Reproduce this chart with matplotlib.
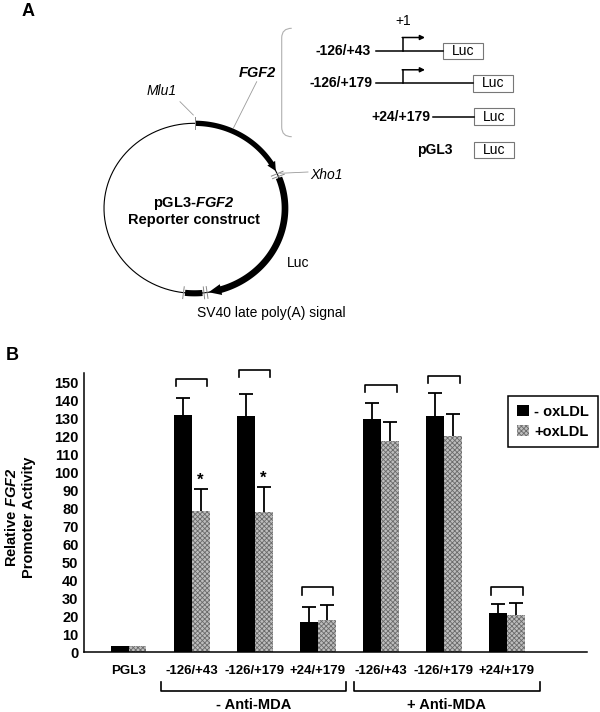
import numpy as np
import matplotlib
matplotlib.use("Agg")
import matplotlib.pyplot as plt
from matplotlib.patches import Rectangle, Polygon, PathPatch
from matplotlib.path import Path

plt.rcParams['font.family'] = 'sans-serif'
plt.rcParams['font.sans-serif'] = ['Liberation Sans', 'DejaVu Sans']
plt.rcParams['mathtext.fontset'] = 'custom'
plt.rcParams['mathtext.rm'] = 'Liberation Sans'
plt.rcParams['mathtext.it'] = 'Liberation Sans:italic'
plt.rcParams['mathtext.bf'] = 'Liberation Sans:bold'
plt.rcParams['mathtext.bfit'] = 'Liberation Sans:italic:bold'
plt.rcParams['hatch.linewidth'] = 0.6

# ---- panel B data ----
groups = ['PGL3', '-126/+43', '-126/+179', '+24/+179', '-126/+43', '-126/+179', '+24/+179']
minus_oxldl = [3.2, 132.0, 131.3, 16.9, 129.6, 131.3, 21.5]
minus_err = [np.nan, 9.7, 12.7, 8.0, 8.9, 13.2, 5.2]
plus_oxldl = [3.2, 78.5, 77.8, 17.8, 117.5, 120.5, 20.4]
plus_err = [np.nan, 12.3, 14.2, 8.4, 10.6, 11.9, 6.7]
significant = [False, True, True, False, False, False, False]
bracket_top = [None, 152, 157, 36, 149, 154, 36]
treatments = ['- Anti-MDA', '+ Anti-MDA']
treatment_span = [(0.52, 3.45), (3.58, 6.52)]

# ---- panel A labels ----
constructs = ['-126/+43', '-126/+179', '+24/+179', 'pGL3']

fig = plt.figure(figsize=(6, 7.12), dpi=100)

# ================= panel A (drawn in pixel coordinates) =================
ax0 = fig.add_axes([0, 0, 1, 1])
ax0.set_xlim(0, 600)
ax0.set_ylim(712, 0)
ax0.axis('off')

cx, cy, rx, ry = 194.5, 208.3, 90.5, 85


def pt(a):
    r = np.radians(a)
    return cx + rx * np.cos(r), cy - ry * np.sin(r)


def arc(a0, a1, **kw):
    t = np.radians(np.linspace(a0, a1, 120))
    ax0.plot(cx + rx * np.cos(t), cy - ry * np.sin(t), **kw)


def head(a_base, a_tip, half):
    bx, by = pt(a_base)
    tx, ty = pt(a_tip)
    d = np.array([tx - bx, ty - by])
    n = np.array([-d[1], d[0]]) / np.hypot(*d)
    tri = [(bx + n[0] * half, by + n[1] * half), (bx - n[0] * half, by - n[1] * half), (tx, ty)]
    ax0.add_patch(Polygon(tri, closed=True, color='k', lw=0))


def tick(a, c='#888888'):
    r = np.radians(a)
    ax0.plot([cx + rx * 0.93 * np.cos(r), cx + rx * 1.07 * np.cos(r)],
             [cy - ry * 0.93 * np.sin(r), cy - ry * 1.07 * np.sin(r)], color=c, lw=0.7)


arc(0, 360, color='k', lw=0.8)
arc(89.5, 31, color='k', lw=3.8, solid_capstyle='butt')
head(32, 26, 4.5)
arc(21, -74, color='k', lw=4.8, solid_capstyle='butt')
head(-73, -81, 5.5)
arc(-96, -85, color='k', lw=4.4, solid_capstyle='butt')
for a in [90, 24, 22, -82, -84, -97]:
    tick(a)

# leader lines
ax0.plot([180, 193.3], [101.7, 115], color='#999999', lw=0.6)
ax0.plot([256.7, 233.3], [81.7, 128.3], color='#999999', lw=0.6)
ax0.plot([280, 308], [173.3, 172], color='#999999', lw=0.6)

ax0.text(162, 91, 'Mlu1', style='italic', fontsize=10, ha='center', va='center')
ax0.text(257, 73, 'FGF2', style='italic', fontweight='bold', fontsize=10.5, ha='center', va='center')
ax0.text(310, 175, 'Xho1', style='italic', fontsize=10, ha='left', va='center')
ax0.text(194, 203, r'pGL3-$\mathbfit{FGF2}$', fontweight='bold', fontsize=10.5, ha='center', va='center')
ax0.text(194, 220, 'Reporter construct', fontweight='bold', fontsize=10.5, ha='center', va='center')
ax0.text(287, 263, 'Luc', fontsize=10, ha='left', va='center')
ax0.text(197, 313, 'SV40 late poly(A) signal', fontsize=10, ha='left', va='center')
ax0.text(22, 11, 'A', fontweight='bold', fontsize=13, ha='left', va='center')
ax0.text(6, 356, 'B', fontweight='bold', fontsize=13, ha='left', va='center')

# bracket grouping the constructs
verts = [(291.7, 28.3), (281.7, 28.3), (281.7, 38), (281.7, 127), (281.7, 136.7), (291.7, 136.7)]
codes = [Path.MOVETO, Path.CURVE3, Path.CURVE3, Path.LINETO, Path.CURVE3, Path.CURVE3]
ax0.add_patch(PathPatch(Path(verts, codes), fill=False, edgecolor='#b0b0b0', lw=0.8))

# construct rows: label right edge, line start, box left, row y
label_x = [371, 372, 430, 453]
line_x0 = [376, 376, 433, None]
box_x = [442.7, 473.3, 474, 474]
row_y = [51, 83.3, 116.7, 150]
has_tss = [True, True, False, False]
for name, lx, x0, bx, y, tss in zip(constructs, label_x, line_x0, box_x, row_y, has_tss):
    ax0.text(lx, y, name, fontweight='bold', fontsize=10, ha='right', va='center')
    if x0 is not None:
        ax0.plot([x0, bx], [y, y], color='k', lw=1.1)
    ax0.add_patch(Rectangle((bx, y - 8.3), 40, 16.6, facecolor='white', edgecolor='#777777', lw=0.8))
    ax0.text(bx + 20, y, 'Luc', fontsize=10, ha='center', va='center')
    if tss:
        ax0.plot([402.7, 402.7], [y, y - 13.5], color='k', lw=1.1)
        ax0.annotate('', xy=(425, y - 13.5), xytext=(402.2, y - 13.5),
                     arrowprops=dict(arrowstyle='-|>', lw=1.1, color='k', mutation_scale=7,
                                     shrinkA=0, shrinkB=0))
ax0.text(403, 21, '+1', fontsize=10, ha='center', va='center')

# ================= panel B =================
ax = fig.add_axes([84 / 600, 60 / 712, 503 / 600, 279.3 / 712])
x = np.arange(len(groups))
w = 0.285
ax.bar(x - w / 2, minus_oxldl, w, color='black', label='- oxLDL')
ax.bar(x + w / 2, plus_oxldl, w, color='#bdbdbd', edgecolor='#6a6a6a', hatch='xxxxxxx',
       linewidth=0, label='+oxLDL')

# one-sided error bars (upper whisker and cap only)
for xs, vals, errs in [(x - w / 2, minus_oxldl, minus_err), (x + w / 2, plus_oxldl, plus_err)]:
    vals = np.array(vals)
    errs = np.array(errs)
    ax.vlines(xs, vals, vals + errs, color='black', lw=1.3)
    ax.plot(xs, vals + errs, ls='none', marker='_', ms=10, mew=1.3, color='black')

for i, top in enumerate(bracket_top):
    if top is not None:
        ax.plot([i - 0.25, i - 0.25, i + 0.25, i + 0.25], [top - 4, top, top, top - 4],
                color='black', lw=1.2, clip_on=False)
    if significant[i]:
        ax.text(i + w / 2, plus_oxldl[i] + plus_err[i] + 0.5, '*', fontweight='bold',
                fontsize=12, ha='center', va='bottom')

for label, (a, b) in zip(treatments, treatment_span):
    ax.plot([a, a, b, b], [-16.5, -21.6, -21.6, -16.5], color='black', lw=1.2, clip_on=False)
    ax.text((a + b) / 2, -29.5, label, fontweight='bold', fontsize=10.5, ha='center', va='center')

ax.set_xlim(-0.706, 7.27)
ax.set_ylim(0, 155.6)
ax.set_yticks(np.arange(0, 151, 10))
ax.set_xticks(x)
ax.set_xticklabels(groups)
for t in ax.get_xticklabels() + ax.get_yticklabels():
    t.set_fontweight('bold')
ax.tick_params(axis='x', length=0, pad=9, labelsize=9.5)
ax.tick_params(axis='y', length=0, pad=4, labelsize=10.5)
ax.spines['top'].set_visible(False)
ax.spines['right'].set_visible(False)
ax.spines['left'].set_linewidth(1.1)
ax.spines['bottom'].set_linewidth(1.1)

fig.text(20 / 600, 1 - 517 / 712, r'Relative $\mathbfit{FGF2}$' + '\nPromoter Activity',
         rotation=90, fontweight='bold', fontsize=10.5, ha='center', va='center', ma='center')

ax.legend(loc='upper right', bbox_to_anchor=(598 / 600, 1 - 396 / 712),
          bbox_transform=fig.transFigure, frameon=True, fancybox=False, edgecolor='black',
          framealpha=1, prop={'weight': 'bold', 'size': 10.5}, handlelength=0.8,
          handleheight=0.8, handletextpad=0.4, borderpad=0.6, labelspacing=0.4,
          borderaxespad=0)
ax.get_legend().get_frame().set_linewidth(1.1)

fig.savefig('out.png', dpi=100)
